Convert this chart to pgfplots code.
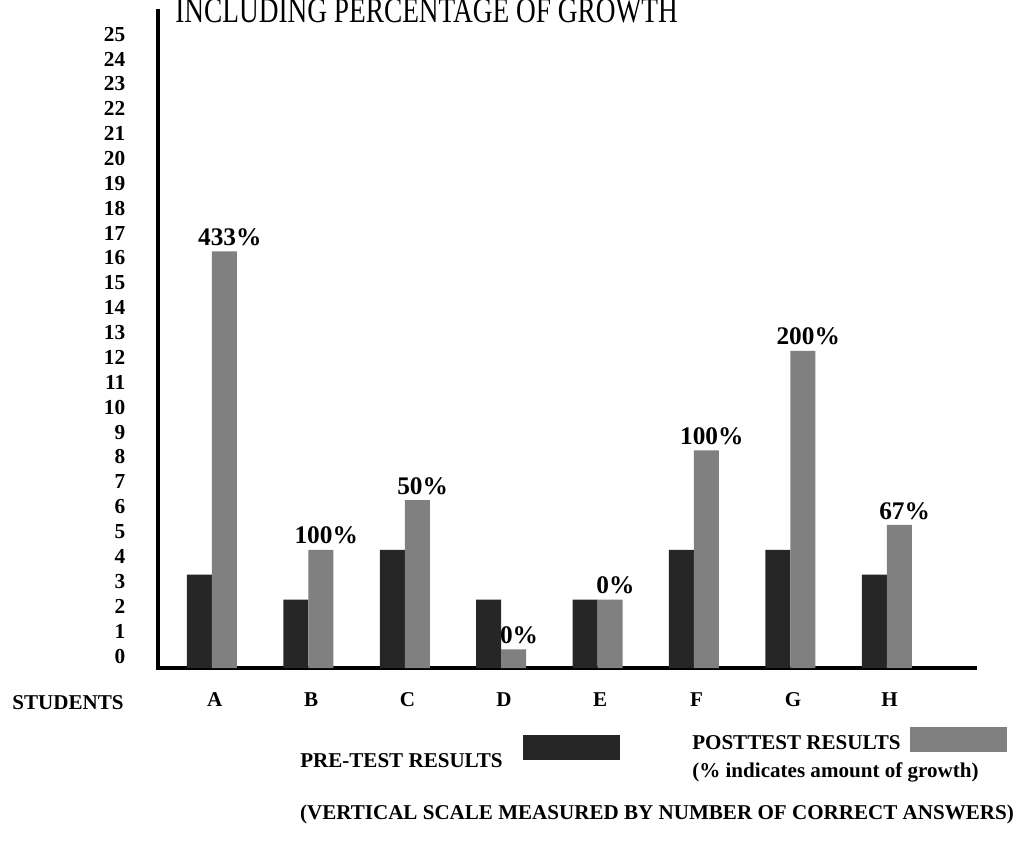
\documentclass[border=0pt]{standalone}
\usepackage{pgfplots}
\pgfplotsset{compat=1.18}
\usepackage{fontspec}
\setmainfont{Liberation Serif}
\begin{document}
\begin{tikzpicture}
\useasboundingbox (0pt,0pt) rectangle (771.75pt,-630pt);
\clip (0pt,0pt) rectangle (771.75pt,-630pt);
\begin{axis}[
  at={(118.5pt,-501pt)}, anchor=south west,
  scale only axis, width=612.75pt, height=492.75pt,
  xmin=-0.56, xmax=7.915, ymin=0, ymax=26.41,
  axis lines=left,
  axis line style={line width=3.5pt,-,line cap=rect},
  ybar=0pt, bar width=18.75pt,
  y filter/.expression={y+0.75},
  xtick={0,...,7},
  xticklabels={A,B,C,D,E,F,G,H},
  ytick={0.75,1.75,2.75,3.75,4.75,5.75,6.75,7.75,8.75,9.75,10.75,11.75,12.75,13.75,14.75,15.75,16.75,17.75,18.75,19.75,20.75,21.75,22.75,23.75,24.75,25.75},
  yticklabels={0,1,2,3,4,5,6,7,8,9,10,11,12,13,14,15,16,17,18,19,20,21,22,23,24,25},
  major tick length=0pt,
  tick style={draw=none},
  xticklabel style={font=\fontsize{15.8}{18}\selectfont\bfseries, anchor=base, yshift=-29pt, xshift=2pt},
  yticklabel style={font=\fontsize{16}{18}\selectfont\bfseries, anchor=east, xshift=-21pt, yshift=-5pt},
  clip=false,
]
\addplot[fill=black!85, draw=none] table[x=x, y=pre] {
x pre
0 3
1 2
2 4
3 2
4 2
5 4
6 4
7 3
};
\addplot[fill=black!50, draw=none,
  point meta=explicit symbolic,
  nodes near coords={\pgfplotspointmeta\%},
  nodes near coords style={font=\fontsize{19}{22}\selectfont\bfseries, anchor=south, inner sep=1pt, yshift=3pt, xshift=4pt, text=black}
] table[x=x, y=post, meta=growth] {
x post growth
0 16 433
1 4 100
2 6 50
3 0 0
4 2 0
5 8 100
6 12 200
7 5 67
};
\end{axis}
\begin{scope}[x=0.75pt, y=-0.75pt]
  \node[anchor=base west, inner sep=0pt] at (175,22) {\scalebox{1}[1.3]{\fontsize{20.5}{24}\selectfont INCLUDING PERCENTAGE OF GROWTH}};
  \node[anchor=base, inner sep=0pt, font=\fontsize{15.8}{18}\selectfont\bfseries] at (68,709) {STUDENTS};
  \node[anchor=base west, inner sep=0pt, font=\fontsize{15.8}{18}\selectfont\bfseries] at (300,767) {PRE-TEST RESULTS};
  \fill[black!85] (523,735) rectangle (620,760);
  \node[anchor=base west, inner sep=0pt, font=\fontsize{15.8}{18}\selectfont\bfseries] at (692,749) {POSTTEST RESULTS};
  \fill[black!50] (910,727) rectangle (1007,752);
  \node[anchor=base west, inner sep=0pt, font=\fontsize{15.8}{18}\selectfont\bfseries] at (692,777) {(\% indicates amount of growth)};
  \node[anchor=base, inner sep=0pt, font=\fontsize{15.8}{18}\selectfont\bfseries] at (657,819) {(VERTICAL SCALE MEASURED BY NUMBER OF CORRECT ANSWERS)};
\end{scope}
\end{tikzpicture}
\end{document}
